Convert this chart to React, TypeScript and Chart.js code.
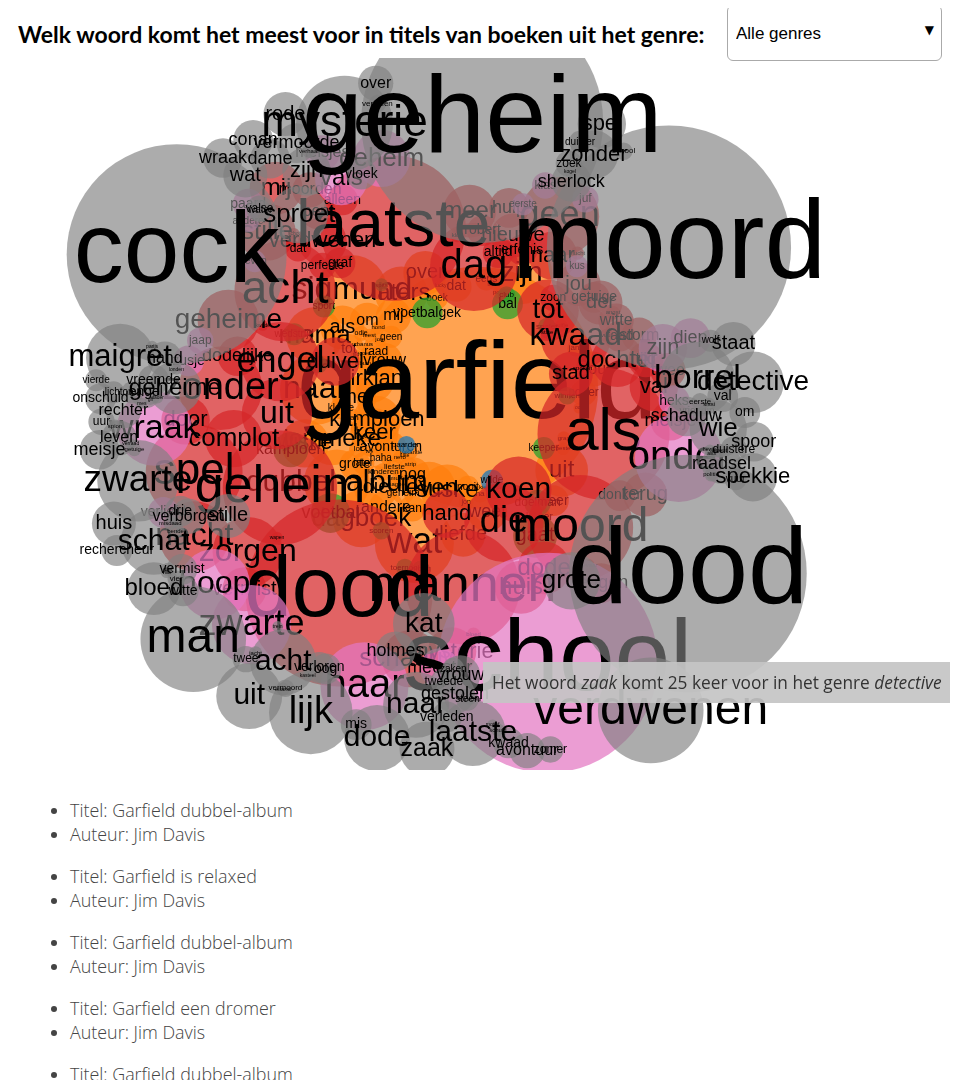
import { useEffect, useRef } from 'react';
import { Chart, registerables } from 'chart.js';

Chart.register(...registerables);

// woord + aantal keer dat het voorkomt in titels, per genre
// (ringgenres staan met de klok mee, beginnend bovenaan)
const detective: [string, number][] = [
  ['mysterie', 44], ['over', 16], ['vloek', 14], ['verhalen', 8], ['geheim', 110], ['spel', 22],
  ['sherlock', 18], ['zoek', 12], ['kogel', 5], ['zonder', 22], ['school', 8], ['duister', 10],
  ['moord', 111], ['staat', 20], ['wolf', 10], ['borrel', 34], ['detective', 28], ['val', 14],
  ['sissi', 6], ['om', 14], ['spoor', 18], ['eerste', 8], ['wie', 26], ['duistere', 12], ['agent', 6],
  ['alibi', 5], ['spekkie', 22], ['vuur', 10], ['schaduw', 18], ['politie', 6], ['bewijs', 5],
  ['raadsel', 18], ['dood', 108], ['verdwenen', 48], ['grote', 26], ['vrouw', 18], ['zomer', 12],
  ['steen', 10], ['schuld', 6], ['motief', 5], ['avontuur', 16], ['gestolen', 18], ['kwaad', 14],
  ['laatste', 30], ['zaken', 10], ['inspecteur', 5], ['zaak', 25], ['tweede', 12], ['verleden', 14],
  ['kat', 28], ['dode', 30], ['holmes', 18], ['naar', 30], ['mis', 14], ['lijk', 38], ['uit', 30],
  ['kasteel', 5], ['vermoord', 8], ['oog', 14], ['verloren', 14], ['eiland', 6], ['trein', 5],
  ['acht', 30], ['twee', 12], ['jacht', 6], ['man', 48], ['stille', 20], ['bloed', 24], ['witte', 14],
  ['vermist', 14], ['villa', 5], ['dief', 6], ['vier', 8], ['schat', 30], ['verborgen', 16],
  ['bende', 6], ['misdaad', 6], ['rechercheur', 14], ['huis', 20], ['drie', 14], ['zwarte', 37],
  ['geheime', 24], ['leven', 16], ['verraad', 5], ['getuige', 6], ['meisje', 18], ['engel', 14],
  ['uur', 12], ['spion', 6], ['dader', 5], ['onschuld', 14], ['rechter', 16], ['hand', 16], ['gif', 5],
  ['mes', 5], ['licht', 10], ['oma', 10], ['vierde', 10], ['londen', 5], ['parijs', 5], ['vreemde', 14],
  ['maigret', 31], ['cock', 100], ['wraak', 18], ['water', 10], ['sproet', 26], ['wat', 20],
  ['valse', 12], ['conan', 18], ['zijn', 22], ['rode', 20], ['vermoorde', 18], ['dame', 18],
  ['verhaal', 6],
];

const spanning: [string, number][] = [
  ['laatste', 66], ['meer', 24], ['dag', 40], ['klok', 6], ['hulp', 18], ['erfenis', 14],
  ['altijd', 14], ['geen', 36], ['der', 20], ['robert', 14], ['tot', 28], ['vlucht', 6],
  ['nieuwe', 20], ['getuige', 14], ['naar', 22], ['witte', 16], ['stilte', 6], ['zoon', 12],
  ['storm', 16], ['tijd', 16], ['angst', 6], ['jou', 20], ['kwaad', 32], ['vuur', 6], ['raad', 14],
  ['meisje', 18], ['stad', 20], ['twee', 16], ['spoken', 6], ['dochter', 24], ['terug', 20],
  ['val', 22], ['als', 60], ['moord', 48], ['koen', 30], ['donker', 14], ['gevaar', 6],
  ['leugen', 18], ['die', 36], ['huis', 24], ['hand', 22], ['dode', 24], ['bloed', 6],
  ['mysterie', 22], ['mannen', 52], ['schaduw', 26], ['dood', 85], ['vermist', 20], ['wapen', 5],
  ['nacht', 32], ['zorgen', 32], ['geheim', 52], ['spel', 44], ['uit', 32], ['door', 22],
  ['complot', 26], ['zonder', 38], ['duivel', 22], ['geheime', 28], ['engel', 36], ['kwade', 5],
  ['dodelijke', 18], ['acht', 46], ['mij', 24], ['graf', 14], ['oorlog', 6], ['moorden', 16],
  ['verdwenen', 22], ['stille', 26], ['perfecte', 12], ['bent', 16], ['schot', 5], ['alleen', 14],
  ['dat', 12],
];

const meisjes: [string, number][] = [
  ['vals', 24], ['geheim', 26], ['eerste', 10], ['klas', 12], ['juf', 12], ['kus', 10], ['zijn', 22],
  ['diep', 18], ['heks', 14], ['vriendin', 10], ['onder', 40], ['school', 100], ['meester', 18],
  ['haar', 40], ['zwarte', 36], ['hoop', 32], ['verliefd', 14], ['wraak', 34], ['zusje', 14],
  ['jaap', 12], ['leven', 10], ['andere', 10], ['paard', 14], ['meisjes', 16],
];

const sport: [string, number][] = [
  ['voetbalgek', 14], ['club', 8], ['bal', 14], ['speler', 8], ['winnen', 8], ['keeper', 10],
  ['doelman', 12], ['gaat', 20], ['ploeg', 8], ['toernooi', 8], ['scoren', 8], ['voetbal', 18],
  ['kampioen', 16], ['trainer', 8], ['wedstrijd', 10], ['sport', 10], ['spits', 6],
];

const dieren: [string, number][] = [['wilde', 10], ['paarden', 8]];

const strips: [string, number][] = [
  ['garfield', 110], ['dubbel-album', 30], ['sigmund', 32], ['wat', 36], ['naar', 32], ['zijn', 28],
  ['dagboek', 26], ['mama', 26], ['suske', 24], ['wiske', 22], ['laters', 24], ['leven', 24],
  ['kampioen', 22], ['uit', 24], ['keer', 22], ['dirkjan', 22], ['liefde', 20], ['me', 20],
  ['over', 20], ['die', 20], ['als', 20], ['weet', 18], ['jommeke', 24], ['mij', 16], ['andere', 16],
  ['vrouw', 16], ['hou', 16], ['nog', 16], ['om', 16], ['weer', 14], ['grote', 14], ['dat', 14],
  ['avonturen', 14], ['tot', 14], ['potter', 12], ['kan', 12], ['raad', 12], ['nooit', 10],
  ['later', 10], ['eens', 10], ['geheim', 10], ['geen', 10], ['lekker', 10], ['kleine', 10],
  ['boek', 10], ['haha', 10], ['jan', 8], ['jans', 8], ['kinderen', 8], ['odie', 7], ['jon', 7],
  ['lasagne', 6], ['poes', 6], ['strip', 6], ['album', 6], ['grap', 6], ['gek', 6], ['feest', 6],
  ['vakantie', 6], ['hond', 6], ['kuifje', 6], ['nero', 6], ['urbanus', 6], ['kiekeboe', 6],
  ['smurfen', 6], ['lucky', 5], ['luke', 5], ['tijd', 5], ['ook', 5], ['jij', 5], ['jou', 6],
  ['ha', 8], ['lot', 8], ['blake', 5], ['wie', 5], ['goed', 5], ['beste', 6], ['liefste', 8],
];

const bookTitles = [
  'Garfield dubbel-album', 'Garfield is relaxed', 'Garfield dubbel-album',
  'Garfield een dromer', 'Garfield dubbel-album',
];
const bookAuthors = ['Jim Davis', 'Jim Davis', 'Jim Davis', 'Jim Davis', 'Jim Davis'];

// eerste genre wordt bovenop getekend; ring = straal waar het genre naartoe trekt
const GENRES = [
  { name: 'detective', words: detective, color: 'rgba(127,127,127,0.65)', ring: 278, start: -1.91, gaps: false },
  { name: 'meisjes', words: meisjes, color: 'rgba(227,119,194,0.72)', ring: 250, start: -1.89, gaps: true },
  { name: 'spanning', words: spanning, color: 'rgba(214,39,40,0.72)', ring: 188, start: -1.86, gaps: false },
  { name: 'sport', words: sport, color: 'rgba(44,160,44,0.75)', ring: 135, start: -1.8, gaps: true },
  { name: 'dieren', words: dieren, color: 'rgba(31,119,180,0.75)', ring: 25, start: -1.2, gaps: true },
  { name: 'strips', words: strips, color: 'rgba(255,127,14,0.72)', ring: null as number | null, start: 0, gaps: false },
];

const W = 860;
const H = 712;
const CX = 418;
const CY = 356;
const SAME = 0.82;
const CROSS = 0.72;

type Node = {
  word: string; count: number; genre: number; r: number;
  x: number; y: number; ring: number | null; angle: number;
};

function buildLayout(): Node[] {
  const nodes: Node[] = [];
  GENRES.forEach((g, gi) => {
    if (g.ring === null) {
      g.words.forEach(([word, count], i) => {
        const rad = 10 * Math.sqrt(i);
        const a = i * 2.39996;
        nodes.push({
          word, count, genre: gi, r: count * 1.1, ring: null, angle: a,
          x: CX + rad * Math.cos(a), y: CY + rad * Math.sin(a),
        });
      });
      return;
    }
    const ring = g.ring;
    let spans: number[];
    if (g.gaps) {
      // dunne ring: elk woord neemt zijn eigen boog, de rest wordt gelijk verdeeld
      const arcs = g.words.map(([, c]) => (2 * c * 1.1 * SAME) / ring);
      const used = arcs.reduce((a, b) => a + b, 0);
      const gap = Math.max(0, 2 * Math.PI - used) / arcs.length;
      const scale = used > 2 * Math.PI ? (2 * Math.PI) / used : 1;
      spans = arcs.map(a => a * scale + gap);
    } else {
      const w = g.words.map(([, c]) => Math.pow(c, 1.5));
      const total = w.reduce((a, b) => a + b, 0);
      spans = w.map(v => (2 * Math.PI * v) / total);
    }
    let cum = 0;
    g.words.forEach(([word, count], i) => {
      const a = g.start + cum + spans[i] / 2;
      cum += spans[i];
      nodes.push({
        word, count, genre: gi, r: count * 1.1, ring, angle: a,
        x: CX + ring * Math.cos(a), y: CY + ring * Math.sin(a),
      });
    });
  });

  const steps = 340;
  for (let it = 0; it < steps; it++) {
    for (const n of nodes) {
      const dx = n.x - CX;
      const dy = n.y - CY;
      const d = Math.hypot(dx, dy) || 1;
      if (n.ring === null) {
        n.x -= dx * 0.03;
        n.y -= dy * 0.03;
      } else {
        const f = (n.ring - d) * 0.1;
        n.x += (dx / d) * f;
        n.y += (dy / d) * f;
        // houd het woord bij zijn plek op de ring
        let da = n.angle - Math.atan2(dy, dx);
        while (da > Math.PI) da -= 2 * Math.PI;
        while (da < -Math.PI) da += 2 * Math.PI;
        const t = da * d * 0.05;
        n.x += (-dy / d) * t;
        n.y += (dx / d) * t;
      }
    }
    for (let i = 0; i < nodes.length; i++) {
      const a = nodes[i];
      for (let j = i + 1; j < nodes.length; j++) {
        const b = nodes[j];
        const minD = (a.r + b.r) * (a.genre === b.genre ? SAME : CROSS);
        const dx = b.x - a.x;
        const dy = b.y - a.y;
        const d2 = dx * dx + dy * dy;
        if (d2 >= minD * minD) continue;
        const d = Math.sqrt(d2) || 0.01;
        const over = minD - d;
        const ma = a.r * a.r;
        const mb = b.r * b.r;
        const wa = mb / (ma + mb);
        const wb = ma / (ma + mb);
        const ux = dx / d;
        const uy = dy / d;
        a.x -= ux * over * wa;
        a.y -= uy * over * wa;
        b.x += ux * over * wb;
        b.y += uy * over * wb;
      }
    }
  }
  return nodes;
}

const wordLabels = {
  id: 'wordLabels',
  afterDatasetDraw(chart: any, args: any) {
    const { ctx, chartArea } = chart;
    const ds = chart.data.datasets[args.index];
    ctx.save();
    ctx.beginPath();
    ctx.rect(chartArea.left, chartArea.top, chartArea.right - chartArea.left, chartArea.bottom - chartArea.top);
    ctx.clip();
    ctx.fillStyle = '#000';
    ctx.textAlign = 'center';
    ctx.textBaseline = 'middle';
    args.meta.data.forEach((el: any, i: number) => {
      const p = ds.data[i];
      ctx.font = `${p.count}px "Liberation Sans", Arial, sans-serif`;
      ctx.fillText(p.word, el.x, el.y);
    });
    ctx.restore();
  },
};

function WordCloud() {
  const canvasRef = useRef<HTMLCanvasElement | null>(null);

  useEffect(() => {
    if (!canvasRef.current) return;
    const nodes = buildLayout();
    const chart = new Chart(canvasRef.current, {
      type: 'bubble',
      data: {
        datasets: GENRES.map((g, gi) => ({
          label: g.name,
          data: nodes
            .filter(n => n.genre === gi)
            .map(n => ({ x: n.x, y: n.y, r: n.r, word: n.word, count: n.count })),
          backgroundColor: g.color,
          borderWidth: 0,
          hoverRadius: 0,
        })),
      } as any,
      options: {
        responsive: false,
        animation: false,
        events: [],
        layout: { padding: 0, autoPadding: false },
        plugins: { legend: { display: false }, tooltip: { enabled: false } },
        scales: {
          x: { type: 'linear', min: 0, max: W, display: false },
          y: { type: 'linear', min: 0, max: H, reverse: true, display: false },
        },
      },
      plugins: [wordLabels],
    });
    return () => chart.destroy();
  }, []);

  return <canvas ref={canvasRef} width={W} height={H} style={{ position: 'absolute', left: 0, top: 50 }} />;
}

export default function App() {
  return (
    <div style={{ position: 'relative', width: 944, height: 1072, overflow: 'hidden' }}>
      <div
        style={{
          position: 'absolute', left: 10, top: 13, fontFamily: 'Lato, sans-serif', fontWeight: 700,
          fontSize: 23, lineHeight: '26px', color: '#000', whiteSpace: 'nowrap',
        }}
      >
        Welk woord komt het meest voor in titels van boeken uit het genre:
      </div>
      <div
        style={{
          position: 'absolute', left: 719, top: -3, width: 215, height: 56, boxSizing: 'border-box',
          border: '1px solid #aaa', borderRadius: 6, background: '#fff',
        }}
      >
        <select
          defaultValue="alle"
          style={{
            appearance: 'none', WebkitAppearance: 'none', width: '100%', height: '100%', border: 'none',
            background: 'transparent', fontSize: 17, fontFamily: '"Liberation Sans", Arial, sans-serif',
            padding: '0 8px', color: '#000', outline: 'none',
          }}
        >
          <option value="alle">Alle genres</option>
        </select>
        <span
          style={{
            position: 'absolute', right: 7, top: 17, fontSize: 12, fontFamily: '"DejaVu Sans", sans-serif',
            pointerEvents: 'none', color: '#000',
          }}
        >
          ▼
        </span>
      </div>
      <WordCloud />
      <div
        style={{
          position: 'absolute', left: 475, top: 654, width: 467, height: 41, boxSizing: 'border-box',
          background: 'rgba(196,196,196,0.92)', color: '#333', fontFamily: '"Open Sans", sans-serif',
          fontSize: 17.3, lineHeight: '41px', paddingLeft: 9, whiteSpace: 'nowrap',
        }}
      >
        Het woord <i>zaak</i> komt 25 keer voor in het genre <i>detective</i>
      </div>
      <div
        style={{
          position: 'absolute', left: 22, top: 790, fontFamily: '"Open Sans", sans-serif', fontWeight: 300,
          fontSize: 17.9, lineHeight: '24px', color: '#444',
        }}
      >
        {bookTitles.map((t, i) => (
          <ul key={i} style={{ margin: '0 0 18px 0', paddingLeft: 40 }}>
            <li>Titel: {t}</li>
            <li>Auteur: {bookAuthors[i]}</li>
          </ul>
        ))}
      </div>
    </div>
  );
}
